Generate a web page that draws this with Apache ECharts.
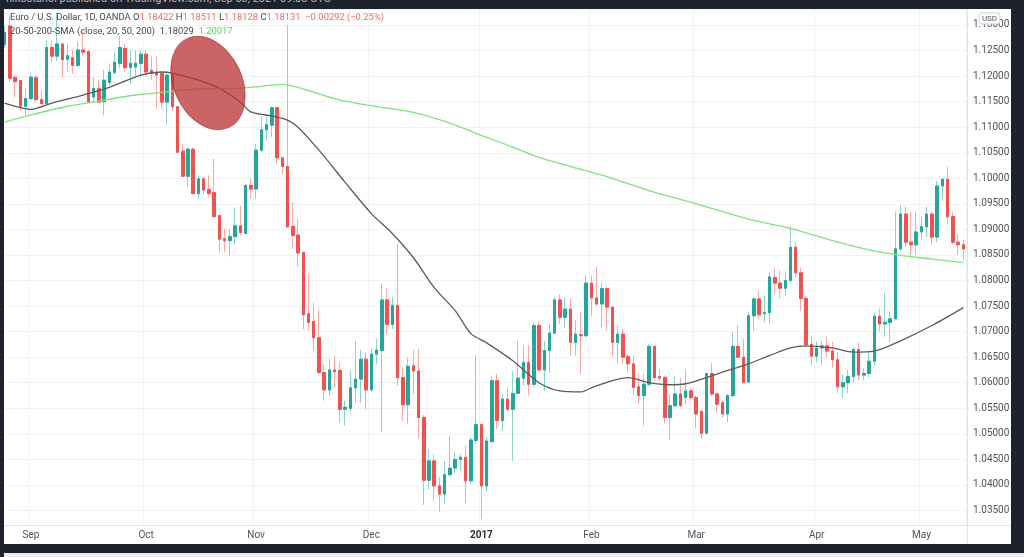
<!DOCTYPE html>
<html>
<head>
<meta charset="utf-8">
<script src="https://cdn.jsdelivr.net/npm/echarts@6/dist/echarts.min.js"></script>
<style>
  html, body { margin: 0; padding: 0; }
  body {
    width: 1024px; height: 557px; overflow: hidden; position: relative;
    background: #1e222d;
    font-family: 'Liberation Sans Narrow', Roboto, sans-serif;
  }
  #paper { position: absolute; left: 4px; top: 9px; width: 1007px; height: 535px; background: #fff; }
  #chart { position: absolute; left: 0; top: 0; width: 1024px; height: 557px; }
  #credit { position: absolute; left: 6px; top: -8px; color: #b2b5be; font-size: 11px; white-space: nowrap; }
  #strip { position: absolute; left: 0; top: 553px; width: 1024px; height: 4px; background: #e9edf3; }
</style>
</head>
<body>
<div id="credit">nikostanoi published on TradingView.com, Sep 03, 2021 09:08 UTC</div>
<div id="paper"></div>
<div id="strip"></div>
<div id="chart"></div>
<script>
// EUR/USD daily, 25 Aug 2016 .. 11 May 2017 (weekdays, two holidays skipped)
const firstDay = '2016-08-25';
const holidays = ['2016-12-26', '2017-01-02'];
const monthNames = ['Jan', 'Feb', 'Mar', 'Apr', 'May', 'Jun', 'Jul', 'Aug', 'Sep', 'Oct', 'Nov', 'Dec'];
const yTicks = { min: 1.03216, max: 1.13313 };

// [open, close, low, high]
const ohlc = [
  [1.1262, 1.1285, 1.1255, 1.1298], [1.1298, 1.1196, 1.1188, 1.1320], [1.1197, 1.1189, 1.1159, 1.1202],
  [1.1191, 1.1141, 1.1133, 1.1192], [1.1141, 1.1156, 1.1123, 1.1176], [1.1156, 1.1198, 1.1153, 1.1205],
  [1.1197, 1.1154, 1.1149, 1.1202], [1.1154, 1.1146, 1.1145, 1.1172], [1.1146, 1.1256, 1.1143, 1.1270],
  [1.1256, 1.1239, 1.1228, 1.1270], [1.1239, 1.1263, 1.1230, 1.1325], [1.1263, 1.1232, 1.1198, 1.1264],
  [1.1233, 1.1240, 1.1208, 1.1264], [1.1236, 1.1221, 1.1205, 1.1251], [1.1221, 1.1251, 1.1218, 1.1267],
  [1.1251, 1.1247, 1.1240, 1.1290], [1.1248, 1.1149, 1.1147, 1.1251], [1.1159, 1.1176, 1.1149, 1.1198],
  [1.1176, 1.1149, 1.1147, 1.1192], [1.1150, 1.1192, 1.1123, 1.1212], [1.1188, 1.1208, 1.1182, 1.1225],
  [1.1207, 1.1227, 1.1202, 1.1247], [1.1225, 1.1256, 1.1215, 1.1278], [1.1254, 1.1217, 1.1208, 1.1264],
  [1.1217, 1.1225, 1.1185, 1.1251], [1.1218, 1.1225, 1.1198, 1.1251], [1.1225, 1.1243, 1.1198, 1.1251],
  [1.1243, 1.1208, 1.1198, 1.1251], [1.1211, 1.1205, 1.1192, 1.1238], [1.1206, 1.1202, 1.1136, 1.1238],
  [1.1205, 1.1149, 1.1136, 1.1208], [1.1149, 1.1202, 1.1105, 1.1205], [1.1202, 1.1140, 1.1133, 1.1208],
  [1.1140, 1.1051, 1.1049, 1.1140], [1.1053, 1.1004, 1.1002, 1.1068], [1.1004, 1.1057, 1.0983, 1.1060],
  [1.1057, 1.0970, 1.0970, 1.1060], [1.0970, 1.0999, 1.0960, 1.1006], [1.0999, 1.0977, 1.0970, 1.1002],
  [1.0978, 1.0970, 1.0963, 1.1006], [1.0972, 1.0925, 1.0924, 1.1038], [1.0927, 1.0881, 1.0855, 1.0927],
  [1.0882, 1.0878, 1.0855, 1.0901], [1.0878, 1.0886, 1.0847, 1.0901], [1.0886, 1.0907, 1.0871, 1.0943],
  [1.0907, 1.0894, 1.0888, 1.0947], [1.0892, 1.0986, 1.0891, 1.0989], [1.0986, 1.0979, 1.0960, 1.0999],
  [1.0979, 1.1055, 1.0960, 1.1068], [1.1055, 1.1095, 1.1051, 1.1121], [1.1095, 1.1105, 1.1074, 1.1120],
  [1.1104, 1.1138, 1.1081, 1.1141], [1.1138, 1.1040, 1.1028, 1.1140], [1.1040, 1.1023, 1.1009, 1.1042],
  [1.1023, 1.0905, 1.0903, 1.1300], [1.0906, 1.0888, 1.0862, 1.0953], [1.0889, 1.0854, 1.0827, 1.0921],
  [1.0855, 1.0733, 1.0705, 1.0855], [1.0735, 1.0718, 1.0702, 1.0813], [1.0720, 1.0688, 1.0663, 1.0757],
  [1.0688, 1.0620, 1.0617, 1.0742], [1.0620, 1.0586, 1.0565, 1.0637], [1.0586, 1.0625, 1.0574, 1.0646],
  [1.0625, 1.0622, 1.0591, 1.0653], [1.0624, 1.0548, 1.0522, 1.0640], [1.0548, 1.0552, 1.0516, 1.0565],
  [1.0550, 1.0590, 1.0542, 1.0624], [1.0590, 1.0607, 1.0561, 1.0682], [1.0607, 1.0646, 1.0561, 1.0664],
  [1.0646, 1.0586, 1.0548, 1.0659], [1.0586, 1.0656, 1.0581, 1.0668], [1.0656, 1.0664, 1.0637, 1.0686],
  [1.0663, 1.0762, 1.0503, 1.0793], [1.0762, 1.0714, 1.0695, 1.0784], [1.0714, 1.0751, 1.0705, 1.0767],
  [1.0751, 1.0610, 1.0594, 1.0872], [1.0610, 1.0557, 1.0525, 1.0630], [1.0557, 1.0632, 1.0520, 1.0650],
  [1.0633, 1.0623, 1.0578, 1.0664], [1.0623, 1.0532, 1.0491, 1.0666], [1.0532, 1.0409, 1.0361, 1.0537],
  [1.0409, 1.0447, 1.0391, 1.0470], [1.0447, 1.0398, 1.0369, 1.0460], [1.0398, 1.0382, 1.0348, 1.0416],
  [1.0382, 1.0420, 1.0362, 1.0447], [1.0420, 1.0433, 1.0418, 1.0496], [1.0433, 1.0450, 1.0424, 1.0465],
  [1.0450, 1.0454, 1.0427, 1.0460], [1.0454, 1.0408, 1.0365, 1.0476], [1.0408, 1.0488, 1.0401, 1.0493],
  [1.0487, 1.0518, 1.0480, 1.0653], [1.0518, 1.0398, 1.0333, 1.0522], [1.0398, 1.0486, 1.0385, 1.0494],
  [1.0485, 1.0604, 1.0480, 1.0612], [1.0604, 1.0526, 1.0509, 1.0617], [1.0526, 1.0568, 1.0506, 1.0578],
  [1.0568, 1.0548, 1.0542, 1.0591], [1.0548, 1.0579, 1.0447, 1.0623], [1.0579, 1.0609, 1.0578, 1.0682],
  [1.0609, 1.0640, 1.0594, 1.0673], [1.0640, 1.0597, 1.0575, 1.0673], [1.0597, 1.0712, 1.0591, 1.0718],
  [1.0712, 1.0625, 1.0622, 1.0718], [1.0625, 1.0663, 1.0584, 1.0682], [1.0663, 1.0697, 1.0620, 1.0715],
  [1.0697, 1.0762, 1.0696, 1.0767], [1.0762, 1.0728, 1.0715, 1.0773], [1.0728, 1.0744, 1.0707, 1.0767],
  [1.0744, 1.0679, 1.0653, 1.0764], [1.0679, 1.0695, 1.0653, 1.0722], [1.0694, 1.0692, 1.0617, 1.0738],
  [1.0692, 1.0795, 1.0689, 1.0810], [1.0795, 1.0766, 1.0731, 1.0810], [1.0766, 1.0754, 1.0751, 1.0827],
  [1.0754, 1.0784, 1.0709, 1.0795], [1.0784, 1.0748, 1.0702, 1.0787], [1.0748, 1.0679, 1.0653, 1.0748],
  [1.0679, 1.0695, 1.0637, 1.0712], [1.0695, 1.0650, 1.0637, 1.0705], [1.0651, 1.0637, 1.0620, 1.0656],
  [1.0637, 1.0591, 1.0575, 1.0653], [1.0592, 1.0575, 1.0558, 1.0617], [1.0575, 1.0597, 1.0516, 1.0617],
  [1.0597, 1.0671, 1.0594, 1.0676], [1.0671, 1.0610, 1.0604, 1.0673], [1.0612, 1.0609, 1.0604, 1.0627],
  [1.0610, 1.0532, 1.0520, 1.0614], [1.0532, 1.0555, 1.0488, 1.0576], [1.0555, 1.0578, 1.0552, 1.0614],
  [1.0578, 1.0555, 1.0552, 1.0610], [1.0571, 1.0584, 1.0558, 1.0627], [1.0584, 1.0571, 1.0565, 1.0591],
  [1.0571, 1.0539, 1.0512, 1.0574], [1.0544, 1.0501, 1.0490, 1.0548], [1.0501, 1.0618, 1.0499, 1.0620],
  [1.0618, 1.0578, 1.0573, 1.0638], [1.0578, 1.0558, 1.0542, 1.0581], [1.0561, 1.0539, 1.0532, 1.0565],
  [1.0539, 1.0575, 1.0522, 1.0578], [1.0575, 1.0671, 1.0571, 1.0699], [1.0671, 1.0650, 1.0650, 1.0712],
  [1.0650, 1.0601, 1.0597, 1.0686], [1.0601, 1.0731, 1.0599, 1.0738], [1.0731, 1.0764, 1.0702, 1.0767],
  [1.0764, 1.0733, 1.0725, 1.0780], [1.0735, 1.0737, 1.0718, 1.0770], [1.0737, 1.0807, 1.0716, 1.0816],
  [1.0806, 1.0795, 1.0775, 1.0825], [1.0795, 1.0785, 1.0765, 1.0820], [1.0785, 1.0800, 1.0770, 1.0818],
  [1.0800, 1.0865, 1.0795, 1.0906], [1.0865, 1.0815, 1.0805, 1.0875], [1.0815, 1.0765, 1.0740, 1.0825],
  [1.0765, 1.0675, 1.0670, 1.0770], [1.0675, 1.0652, 1.0635, 1.0690], [1.0652, 1.0668, 1.0640, 1.0680],
  [1.0668, 1.0672, 1.0635, 1.0682], [1.0672, 1.0662, 1.0650, 1.0690], [1.0662, 1.0645, 1.0630, 1.0680],
  [1.0645, 1.0592, 1.0580, 1.0660], [1.0592, 1.0600, 1.0570, 1.0615], [1.0600, 1.0612, 1.0580, 1.0625],
  [1.0612, 1.0665, 1.0600, 1.0670], [1.0665, 1.0615, 1.0605, 1.0678], [1.0615, 1.0618, 1.0605, 1.0628],
  [1.0618, 1.0642, 1.0610, 1.0660], [1.0642, 1.0730, 1.0635, 1.0737], [1.0730, 1.0715, 1.0700, 1.0745],
  [1.0715, 1.0718, 1.0690, 1.0775], [1.0718, 1.0725, 1.0680, 1.0740], [1.0725, 1.0862, 1.0725, 1.0935],
  [1.0862, 1.0930, 1.0858, 1.0948], [1.0930, 1.0875, 1.0865, 1.0945], [1.0875, 1.0870, 1.0850, 1.0935],
  [1.0870, 1.0895, 1.0850, 1.0935], [1.0895, 1.0905, 1.0880, 1.0925], [1.0905, 1.0930, 1.0885, 1.0945],
  [1.0930, 1.0885, 1.0870, 1.0935], [1.0885, 1.0985, 1.0875, 1.0995], [1.0985, 1.0998, 1.0955, 1.1000],
  [1.0998, 1.0925, 1.0910, 1.1023], [1.0925, 1.0875, 1.0870, 1.0935], [1.0875, 1.0870, 1.0850, 1.0890],
  [1.0870, 1.0862, 1.0840, 1.0880]
];

// moving averages at these candle positions
const sma50Idx = [0, 5, 9, 15, 20, 26, 30, 32, 37, 41, 45, 47, 51, 54, 56, 60, 65, 70, 74, 78, 82, 86, 89, 92, 97, 102, 106, 110, 112, 116, 119, 123, 127, 130, 134, 138, 142, 146, 150, 153, 158, 162, 166, 171, 177, 183];
const sma50 = [1.1147, 1.1135, 1.1147, 1.1163, 1.1178, 1.1202, 1.1208, 1.1206, 1.1192, 1.1176, 1.1149, 1.1130, 1.1122, 1.1114, 1.1100, 1.1055, 1.0992, 1.0931, 1.0892, 1.0845, 1.0786, 1.0741, 1.0696, 1.0678, 1.0643, 1.0600, 1.0584, 1.0582, 1.0590, 1.0604, 1.0610, 1.0600, 1.0596, 1.0598, 1.0610, 1.0624, 1.0637, 1.0653, 1.0668, 1.0672, 1.0668, 1.0660, 1.0662, 1.0682, 1.0712, 1.0747];
const sma200Idx = [0, 5, 12, 18, 25, 31, 37, 44, 49, 53, 56, 64, 72, 78, 85, 91, 97, 102, 114, 123, 133, 142, 150, 158, 165, 171, 177, 183];
const sma200 = [1.1110, 1.1124, 1.1141, 1.1151, 1.1163, 1.1169, 1.1175, 1.1176, 1.1180, 1.1184, 1.1178, 1.1153, 1.1139, 1.1129, 1.1108, 1.1084, 1.1061, 1.1041, 1.1006, 1.0976, 1.0947, 1.0920, 1.0902, 1.0878, 1.0860, 1.0849, 1.0842, 1.0835];

function tradingDays(start, count) {
  const out = [];
  const d = new Date(start + 'T12:00:00Z');
  while (out.length < count) {
    const s = d.toISOString().slice(0, 10);
    const wd = d.getUTCDay();
    if (wd !== 0 && wd !== 6 && holidays.indexOf(s) < 0) out.push(s);
    d.setUTCDate(d.getUTCDate() + 1);
  }
  return out;
}
const days = tradingDays(firstDay, ohlc.length);
const isMonthStart = (i) => i > 0 && days[i].slice(0, 7) !== days[i - 1].slice(0, 7);

const up = '#26a69a', down = '#ef5350';
const upWick = '#8fd2ca', downWick = '#f6a9a7';
const txt = '#434651';
const font = "'Liberation Sans Narrow', Roboto, sans-serif";
const legendFont = '9.4px ' + font;

const chart = echarts.init(document.getElementById('chart'), null, { renderer: 'canvas' });
chart.setOption({
  animation: false,
  backgroundColor: 'transparent',
  grid: { left: 2, right: 58, top: 9, bottom: 32 },
  xAxis: {
    type: 'category',
    data: days,
    boundaryGap: true,
    axisLine: { show: false },
    axisTick: { show: false },
    axisLabel: {
      interval: (i) => isMonthStart(i),
      margin: 5,
      fontSize: 10,
      fontFamily: font,
      color: '#50535e',
      formatter: (v) => {
        const m = +v.slice(5, 7);
        return m === 1 ? '{y|' + v.slice(0, 4) + '}' : monthNames[m - 1];
      },
      rich: { y: { fontWeight: 'bold', fontSize: 10, fontFamily: font, color: '#2a2e39' } }
    },
    splitLine: { show: true, interval: (i) => isMonthStart(i), lineStyle: { color: '#f0f2f6', width: 1 } }
  },
  yAxis: {
    type: 'value',
    position: 'right',
    min: yTicks.min,
    max: yTicks.max,
    splitNumber: 20,
    axisLine: { show: false },
    axisTick: { show: false },
    axisLabel: {
      showMinLabel: false,
      showMaxLabel: false,
      margin: 7,
      fontSize: 10,
      fontFamily: font,
      color: '#50535e',
      formatter: (v) => v.toFixed(5)
    },
    splitLine: { lineStyle: { color: '#f0f2f6', width: 1 } }
  },
  series: [
    {
      // wicks (lighter) and full candle
      type: 'candlestick',
      data: ohlc,
      barWidth: 3,
      itemStyle: {
        color: upWick, color0: downWick,
        borderColor: upWick, borderColor0: downWick, borderColorDoji: downWick,
        borderWidth: 1
      },
      z: 2
    },
    {
      // solid bodies on top
      type: 'candlestick',
      data: ohlc.map(([o, c]) => [o, c, Math.min(o, c), Math.max(o, c)]),
      barWidth: 3,
      itemStyle: {
        color: up, color0: down,
        borderColor: up, borderColor0: down, borderColorDoji: down,
        borderWidth: 1
      },
      z: 3
    },
    {
      type: 'line',
      data: sma50Idx.map((x, k) => [x, sma50[k]]),
      showSymbol: false,
      smooth: 0.3,
      lineStyle: { color: '#5b5b5b', width: 1.3 },
      z: 4
    },
    {
      type: 'line',
      data: sma200Idx.map((x, k) => [x, sma200[k]]),
      showSymbol: false,
      smooth: 0.3,
      lineStyle: { color: '#7ee27e', width: 1.3 },
      z: 4
    }
  ],
  graphic: [
    { type: 'rect', shape: { x: 0, y: 0, width: 4, height: 557 }, style: { fill: '#1e222d' }, z: 100 },
    { type: 'line', shape: { x1: 4, y1: 525.5, x2: 1011, y2: 525.5 }, style: { stroke: '#e0e3eb', lineWidth: 1 }, z: 90 },
    { type: 'line', shape: { x1: 967.5, y1: 9, x2: 967.5, y2: 544 }, style: { stroke: '#e0e3eb', lineWidth: 1 }, z: 90 },
    {
      type: 'ellipse',
      x: 208, y: 83, rotation: 0.44,
      shape: { cx: 0, cy: 0, rx: 34, ry: 49 },
      style: { fill: 'rgba(186,52,52,0.76)', stroke: 'rgba(150,40,40,0.6)', lineWidth: 1 },
      z: 80
    },
    {
      type: 'rect', shape: { x: 979, y: 13, width: 21, height: 11, r: 3 },
      style: { fill: '#ffffff', stroke: '#c9ccd4', lineWidth: 1 }, z: 95
    },
    {
      type: 'text', x: 989.5, y: 18.5,
      style: { text: 'USD', fill: '#50535e', font: '8px ' + font, align: 'center', verticalAlign: 'middle' },
      z: 96
    },
    {
      type: 'text', x: 10, y: 17.5,
      style: {
        text: '{t|Euro / U.S. Dollar, 1D, OANDA O}{r|1.18422}{t| H}{r|1.18511}{t| L}{r|1.18128}{t| C}{r|1.18131}{r|  \u22120.00292 (\u22120.25%)}',
        verticalAlign: 'middle',
        rich: {
          t: { fill: txt, font: legendFont },
          r: { fill: '#f26b6b', font: legendFont }
        }
      },
      z: 96
    },
    {
      type: 'text', x: 10, y: 31.5,
      style: {
        text: '{t|20-50-200-SMA (close, 20, 50, 200)  1.18029  }{g|1.20017}',
        verticalAlign: 'middle',
        rich: {
          t: { fill: txt, font: legendFont },
          g: { fill: '#45dd45', font: legendFont }
        }
      },
      z: 96
    }
  ]
});
</script>
</body>
</html>
